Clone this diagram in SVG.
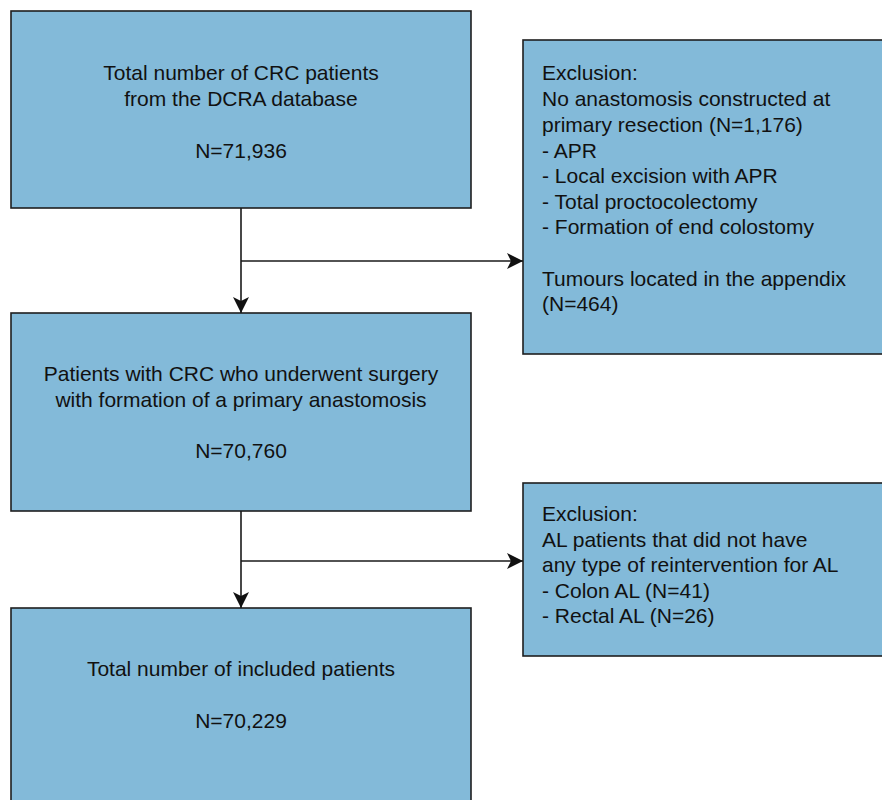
<svg xmlns="http://www.w3.org/2000/svg" width="882" height="800" viewBox="0 0 882 800">
  <style>
    .box { fill: #83bad9; stroke: #1f1f1f; stroke-width: 1.6; }
    .t { font-family: "Liberation Sans", Arial, sans-serif; font-size: 21px; fill: #111; }
    .c { text-anchor: middle; }
    .conn { stroke: #1a1a1a; stroke-width: 1.6; fill: none; }
  </style>
  <defs>
    <marker id="arr" markerUnits="userSpaceOnUse" viewBox="0 0 16 16" refX="16" refY="8" markerWidth="16" markerHeight="16" orient="auto">
      <path d="M0,0 L16,8 L0,16 L4,8 Z" fill="#111"/>
    </marker>
  </defs>
  <rect width="882" height="800" fill="#ffffff"/>

  <g id="node-total">
    <rect class="box" x="11" y="11" width="460" height="197"/>
    <text class="t c" x="241" y="80">Total number of CRC patients</text>
    <text class="t c" x="241" y="106">from the DCRA database</text>
    <text class="t c" x="241" y="158">N=71,936</text>
  </g>

  <g id="node-anastomosis">
    <rect class="box" x="11" y="313" width="460" height="198"/>
    <text class="t c" x="241" y="381">Patients with CRC who underwent surgery</text>
    <text class="t c" x="241" y="407">with formation of a primary anastomosis</text>
    <text class="t c" x="241" y="458">N=70,760</text>
  </g>

  <g id="node-included">
    <rect class="box" x="11" y="608" width="460" height="200"/>
    <text class="t c" x="241" y="676">Total number of included patients</text>
    <text class="t c" x="241" y="728">N=70,229</text>
  </g>

  <g id="node-exclusion1">
    <rect class="box" x="523" y="40" width="370" height="314"/>
    <text class="t" x="542" y="80">Exclusion:</text>
    <text class="t" x="542" y="106">No anastomosis constructed at</text>
    <text class="t" x="542" y="132">primary resection (N=1,176)</text>
    <text class="t" x="542" y="158">- APR</text>
    <text class="t" x="542" y="183">- Local excision with APR</text>
    <text class="t" x="542" y="209">- Total proctocolectomy</text>
    <text class="t" x="542" y="234">- Formation of end colostomy</text>
    <text class="t" x="542" y="286">Tumours located in the appendix</text>
    <text class="t" x="542" y="311">(N=464)</text>
  </g>

  <g id="node-exclusion2">
    <rect class="box" x="523" y="483" width="370" height="173"/>
    <text class="t" x="542" y="521">Exclusion:</text>
    <text class="t" x="542" y="547">AL patients that did not have</text>
    <text class="t" x="542" y="572">any type of reintervention for AL</text>
    <text class="t" x="542" y="598">- Colon AL (N=41)</text>
    <text class="t" x="542" y="623">- Rectal AL (N=26)</text>
  </g>

  <g id="connectors">
    <line class="conn" x1="241" y1="208" x2="241" y2="313" marker-end="url(#arr)"/>
    <line class="conn" x1="241" y1="261" x2="523" y2="261" marker-end="url(#arr)"/>
    <line class="conn" x1="241" y1="511" x2="241" y2="608" marker-end="url(#arr)"/>
    <line class="conn" x1="241" y1="561" x2="523" y2="561" marker-end="url(#arr)"/>
  </g>
</svg>
